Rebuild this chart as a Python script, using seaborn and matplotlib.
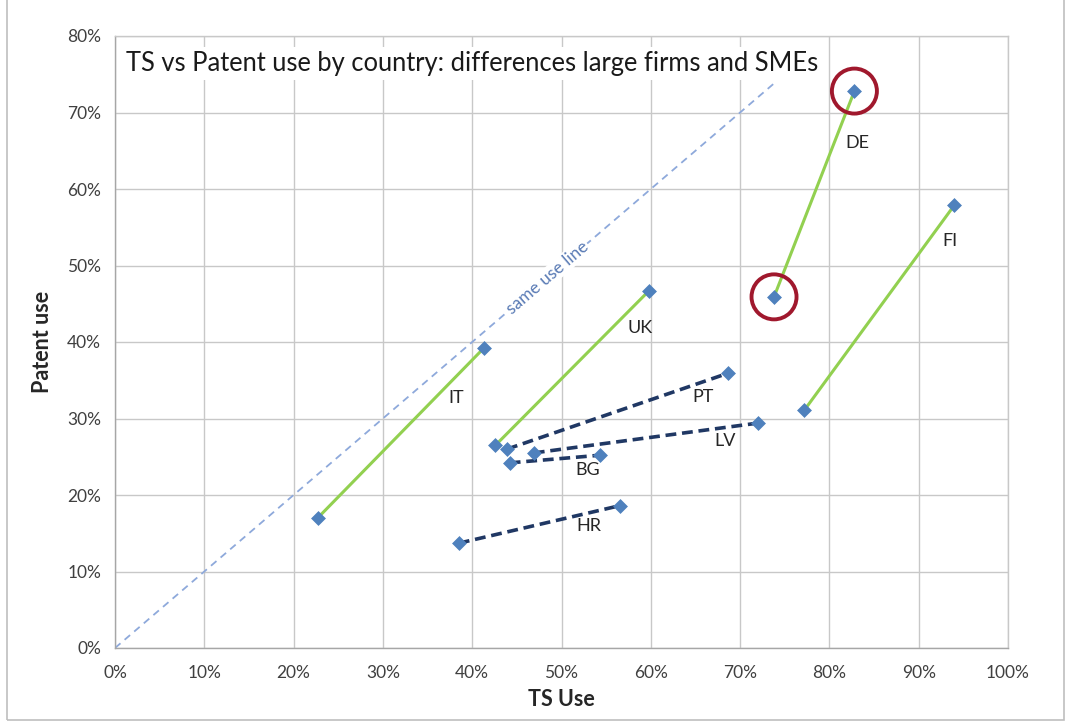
import pandas as pd
import matplotlib.pyplot as plt
import matplotlib.patches as mpatches
import seaborn as sns

# values (percent)
countries = ['IT', 'UK', 'DE', 'FI', 'PT', 'LV', 'BG', 'HR']
sme_ts = [22.7, 42.6, 73.8, 77.2, 43.9, 46.9, 44.2, 38.5]
sme_patent = [17.0, 26.5, 45.9, 31.1, 26.0, 25.5, 24.2, 13.7]
large_ts = [41.3, 59.8, 82.8, 94.0, 68.6, 72.0, 54.3, 56.5]
large_patent = [39.2, 46.7, 72.8, 57.9, 35.9, 29.4, 25.2, 18.6]
solid_group = ['IT', 'UK', 'DE', 'FI']
highlight = 'DE'
same_use_end = 74.0
x_ticks = list(range(0, 101, 10))
y_ticks = list(range(0, 81, 10))

df = pd.DataFrame({
    'country': countries * 2,
    'firm': ['SMEs'] * len(countries) + ['Large'] * len(countries),
    'ts': sme_ts + large_ts,
    'patent': sme_patent + large_patent,
})

sns.set_theme(style='white')
plt.rcParams['font.family'] = ['Lato', 'DejaVu Sans']

fig = plt.figure(figsize=(10.71, 7.23), dpi=100)
ax = fig.add_axes([115/1071, 1 - 648/723, (1008-115)/1071, (648-36)/723])

# outer chart border
fig.patches.append(mpatches.Rectangle((7/1071, 3/723), (1064-7)/1071, 1.0, transform=fig.transFigure,
                                      fill=False, edgecolor='#BFBFBF', linewidth=1.2))

# same use line
diag = pd.DataFrame({'ts': [0, same_use_end], 'patent': [0, same_use_end]})
sns.lineplot(data=diag, x='ts', y='patent', ax=ax, color='#8EA9DB', linewidth=1.3,
             linestyle=(0, (4, 3)), zorder=2)
ax.text(48.4, 48.4, 'same use line', rotation=40.6, rotation_mode='anchor', ha='center', va='center',
        fontsize=12.5, color='#5A7BB5', zorder=3,
        bbox=dict(facecolor='white', edgecolor='none', pad=1))

# country segments
for c in countries:
    sub = df[df['country'] == c]
    if c in solid_group:
        sns.lineplot(data=sub, x='ts', y='patent', ax=ax, sort=False, color='#92D050',
                     linewidth=2.2, zorder=4)
    else:
        sns.lineplot(data=sub, x='ts', y='patent', ax=ax, sort=False, color='#203864',
                     linewidth=2.6, linestyle=(0, (3, 1.6)), zorder=4)

sns.scatterplot(data=df, x='ts', y='patent', ax=ax, marker='D', s=50, color='#4F81BD',
                edgecolor='#4F81BD', linewidth=0.5, zorder=5)

# highlight circles
sns.scatterplot(data=df[df['country'] == highlight], x='ts', y='patent', ax=ax, marker='o', s=1050,
                facecolor='none', edgecolor='#A0182D', linewidth=2.8, zorder=6)

# country labels, offset from the large-firm point (pixels)
label_offsets = {'IT': (-28, -50), 'UK': (-9, -37), 'DE': (3, -52), 'FI': (-4, -36),
                 'PT': (-25, -24), 'LV': (-33, -18), 'BG': (-12, -15), 'HR': (-31, -20)}
for c, x, y in zip(countries, large_ts, large_patent):
    ax.annotate(c, (x, y), xytext=label_offsets[c], textcoords='offset pixels',
                ha='center', va='center', fontsize=13, color='#262626', zorder=7)

ax.set_xlim(0, 100)
ax.set_ylim(0, 80)
ax.set_xticks(x_ticks)
ax.set_yticks(y_ticks)
ax.set_xticklabels([f'{t}%' for t in x_ticks])
ax.set_yticklabels([f'{t}%' for t in y_ticks])
ax.grid(True, color='#C8C8C8', linewidth=1)
ax.set_axisbelow(True)
for s in ax.spines.values():
    s.set_color('#C8C8C8')
    s.set_linewidth(1)
ax.spines['left'].set_color('#A6A6A6')
ax.spines['bottom'].set_color('#A6A6A6')
ax.tick_params(axis='both', labelsize=12.5, labelcolor='#404040', colors='#A6A6A6', length=5,
               direction='out', width=1)
ax.tick_params(axis='x', pad=7)
ax.tick_params(axis='y', pad=5)
for lbl in ax.get_xticklabels() + ax.get_yticklabels():
    lbl.set_color('#404040')

ax.set_xlabel('TS Use', fontsize=15.5, fontweight='bold', color='#262626', labelpad=6)
ax.set_ylabel('Patent use', fontsize=15.5, fontweight='bold', color='#262626', labelpad=10)

ax.text(0.012, 0.955, 'TS vs Patent use by country: differences large firms and SMEs',
        transform=ax.transAxes, fontsize=18.4, color='#1A1A1A', ha='left', va='center', zorder=8,
        bbox=dict(facecolor='white', edgecolor='none', pad=3))

fig.savefig('out.png', dpi=100)
